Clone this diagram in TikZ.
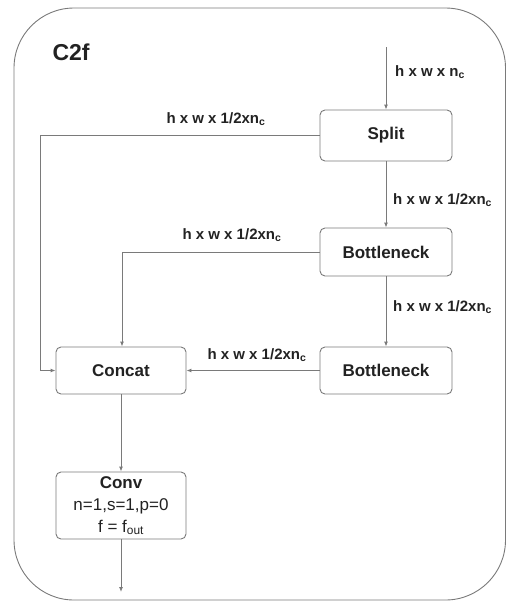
\documentclass[tikz,border=0pt]{standalone}
\usepackage{fontspec}
\setmainfont{Liberation Sans}
\usetikzlibrary{arrows.meta}
\definecolor{linegray}{HTML}{7A7A7A}
\definecolor{textdark}{HTML}{222222}
\begin{document}
\begin{tikzpicture}[x=1pt,y=-1pt,
  block/.style={draw=linegray, line width=0.9pt, rounded corners=5pt, fill=white,
    text=textdark, align=center, font=\fontsize{17}{20}\selectfont\bfseries, inner sep=0pt},
  flow/.style={draw=linegray, line width=0.9pt, -{Latex[length=5pt,width=4pt]}},
  dim/.style={text=textdark, font=\fontsize{15}{18}\selectfont\bfseries, inner sep=0pt}]
  \useasboundingbox (0,0) rectangle (506,603);
  % outer frame of the module
  \draw[linegray, line width=0.9pt, rounded corners=60pt] (14,8) rectangle (505.5,600);
  \node[anchor=west, text=textdark, font=\fontsize{23}{26}\selectfont\bfseries] (title) at (49,52) {C2f};

  % blocks
  \node[block, minimum width=132pt, minimum height=51pt] (split) at (386,135.5) {Split};
  \node[block, minimum width=132pt, minimum height=48pt] (bn1) at (386,252) {Bottleneck};
  \node[block, minimum width=132pt, minimum height=47pt] (bn2) at (386,370.5) {Bottleneck};
  \node[block, minimum width=130pt, minimum height=47pt] (concat) at (121,370.5) {Concat};
  \node[block, minimum width=130pt, minimum height=67pt, font=\fontsize{17}{22}\selectfont] (conv) at (121,505.5)
    {\textbf{Conv}\\n=1,s=1,p=0\\f = f\textsubscript{out}};

  \coordinate (in) at (386,47);
  \coordinate (out) at (121,592);
  \coordinate (splitturn) at (40,135.5);
  \coordinate (bn1turn) at (122,252);

  % connectors
  \draw[flow] (in) -- (split);
  \draw[flow] (split) -- (bn1);
  \draw[flow] (bn1) -- (bn2);
  \draw[flow] (bn2) -- (concat);
  \draw[flow] (split.west) -- (splitturn) |- (concat.west);
  \draw[flow] (bn1.west) -- (bn1turn) -- (bn1turn |- concat.north);
  \draw[flow] (concat) -- (conv);
  \draw[flow] (conv) -- (out);

  % tensor shapes
  \node[dim, anchor=west] (l0) at (395,72) {h x w x n\textsubscript{c}};
  \node[dim] (l1) at (216,119) {h x w x 1/2xn\textsubscript{c}};
  \node[dim, anchor=west] (l2) at (393,200) {h x w x 1/2xn\textsubscript{c}};
  \node[dim] (l3) at (232,235) {h x w x 1/2xn\textsubscript{c}};
  \node[dim, anchor=west] (l4) at (393,307) {h x w x 1/2xn\textsubscript{c}};
  \node[dim] (l5) at (257,355) {h x w x 1/2xn\textsubscript{c}};
\end{tikzpicture}
\end{document}
